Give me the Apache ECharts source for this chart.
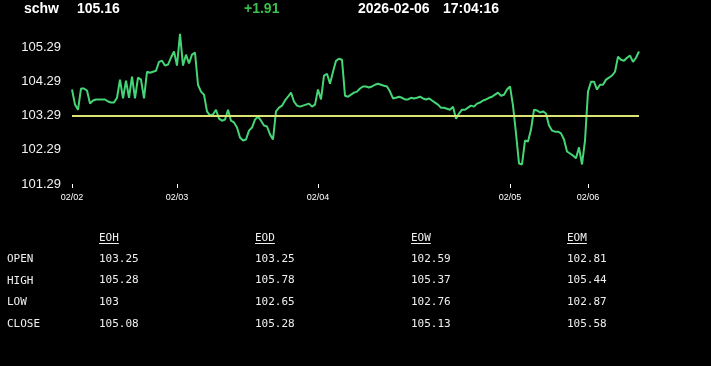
<!DOCTYPE html>
<html>
<head>
<meta charset="utf-8">
<script src="https://cdn.jsdelivr.net/npm/echarts@6/dist/echarts.min.js"></script>
<style>
html,body{margin:0;padding:0;background:#000;}
#chart{width:711px;height:366px;}
</style>
</head>
<body>
<div id="chart"></div>
<script>
// ---- data ----
const symbolName = 'schw';
const lastPrice = '105.16';
const change = '+1.91';
const dateText = '2026-02-06';
const timeText = '17:04:16';

const dayLabels = ['02/02', '02/03', '02/04', '02/05', '02/06'];
const dayStartIndex = [0, 35, 82, 146, 172];
const yTickValues = [101.29, 102.29, 103.29, 104.29, 105.29];
const refLevel = 103.29;

const prices = [
  104.05,103.61,103.46,104.08,104.08,104.02,103.64,103.73,103.76,103.76,
  103.76,103.76,103.70,103.67,103.67,103.81,104.34,103.79,104.31,103.81,
  104.43,103.79,104.40,104.34,103.79,104.57,104.54,104.57,104.60,104.86,
  104.89,104.75,104.78,104.98,105.16,104.75,105.68,104.75,105.07,104.81,
  105.07,105.13,104.19,103.99,103.90,103.41,103.29,103.32,103.46,103.20,
  103.14,103.17,103.46,103.14,103.09,102.94,102.65,102.56,102.59,102.85,
  102.94,103.17,103.26,103.14,103.00,102.97,102.74,102.59,103.41,103.52,
  103.58,103.73,103.84,103.96,103.70,103.58,103.55,103.58,103.61,103.64,
  103.55,103.61,104.05,103.76,104.46,104.51,104.22,104.57,104.89,104.95,
  104.92,103.87,103.84,103.90,103.96,103.99,104.08,104.14,104.14,104.11,
  104.14,104.19,104.22,104.19,104.16,104.14,103.99,103.79,103.81,103.84,
  103.81,103.76,103.76,103.81,103.79,103.81,103.84,103.79,103.76,103.79,
  103.73,103.67,103.61,103.52,103.52,103.49,103.46,103.55,103.20,103.35,
  103.46,103.46,103.52,103.58,103.55,103.64,103.67,103.73,103.76,103.81,
  103.84,103.90,103.96,103.87,103.90,104.05,104.14,103.58,102.77,101.89,
  101.86,102.56,102.53,102.88,103.46,103.44,103.38,103.41,103.35,103.00,
  102.85,102.82,102.82,102.77,102.59,102.24,102.18,102.12,102.04,102.36,
  101.86,102.56,103.99,104.28,104.28,104.05,104.19,104.19,104.34,104.40,
  104.46,104.57,105.01,104.92,104.89,104.98,105.04,104.86,104.98,105.16
];

const tableHeaders = ['EOH', 'EOD', 'EOW', 'EOM'];
const rowLabels = ['OPEN', 'HIGH', 'LOW', 'CLOSE'];
const eohValues = ['103.25', '105.28', '103', '105.08'];
const eodValues = ['103.25', '105.78', '102.65', '105.28'];
const eowValues = ['102.59', '105.37', '102.76', '105.13'];
const eomValues = ['102.81', '105.44', '102.87', '105.58'];

// ---- chart ----
const categories = prices.map((_, i) => String(i));
const tableColumns = [eohValues, eodValues, eowValues, eomValues];

const chart = echarts.init(document.getElementById('chart'), null, {renderer: 'canvas'});

const headFont = 'bold 14px "Liberation Sans", Arial, sans-serif';
const monoFont = '11px "DejaVu Sans Mono", "Liberation Mono", monospace';
const colX = [99, 255, 411, 567];
const rowY = [259, 280.5, 302, 324];
const headerY = 238;

const graphics = [];
const headItems = [
  {t: symbolName, x: 24, c: '#ffffff'},
  {t: lastPrice, x: 77, c: '#ffffff'},
  {t: change, x: 244, c: '#3cbf4c'},
  {t: dateText, x: 358, c: '#ffffff'},
  {t: timeText, x: 443, c: '#ffffff'}
];
headItems.forEach(h => graphics.push({
  type: 'text', x: h.x, y: 9,
  style: {text: h.t, fill: h.c, font: headFont, verticalAlign: 'middle', align: 'left'}
}));
tableHeaders.forEach((h, j) => {
  graphics.push({
    type: 'text', x: colX[j], y: headerY,
    style: {text: h, fill: '#f0f0f0', font: monoFont, verticalAlign: 'middle', align: 'left'}
  });
  graphics.push({
    type: 'line',
    shape: {x1: colX[j], y1: 243.5, x2: colX[j] + h.length * 6.62, y2: 243.5},
    style: {stroke: '#f0f0f0', lineWidth: 1}
  });
});
rowLabels.forEach((r, i) => {
  graphics.push({
    type: 'text', x: 7, y: rowY[i] + 0.5,
    style: {text: r, fill: '#f0f0f0', font: monoFont, verticalAlign: 'middle', align: 'left'}
  });
  tableColumns.forEach((col, j) => graphics.push({
    type: 'text', x: colX[j], y: rowY[i],
    style: {text: col[i], fill: '#f0f0f0', font: monoFont, verticalAlign: 'middle', align: 'left'}
  }));
});

chart.setOption({
  backgroundColor: '#000000',
  animation: false,
  grid: {left: 72, right: 72, top: 30, bottom: 182, containLabel: false},
  xAxis: {
    type: 'category',
    data: categories,
    boundaryGap: false,
    axisLine: {show: false},
    axisTick: {
      show: true, length: 4, inside: false,
      lineStyle: {color: '#ffffff', width: 1},
      interval: (idx) => dayStartIndex.includes(idx)
    },
    axisLabel: {
      color: '#ffffff', fontSize: 9, margin: 9,
      fontFamily: '"Liberation Sans", Arial, sans-serif',
      interval: (idx) => dayStartIndex.includes(idx),
      formatter: (val, idx) => {
        const k = dayStartIndex.indexOf(Number(val));
        return k >= 0 ? dayLabels[k] : '';
      }
    },
    splitLine: {show: false}
  },
  yAxis: {
    type: 'value',
    min: 101.29,
    max: 105.79,
    axisLine: {show: false},
    axisTick: {show: false},
    splitLine: {show: false},
    axisLabel: {
      customValues: yTickValues,
      color: '#f2f2f2', fontSize: 13, margin: 11,
      fontFamily: '"Liberation Sans", Arial, sans-serif',
      formatter: (v) => Number(v).toFixed(2)
    }
  },
  series: [{
    type: 'line',
    data: prices,
    showSymbol: false,
    symbol: 'none',
    lineStyle: {color: '#46d576', width: 2},
    itemStyle: {color: '#46d576'},
    markLine: {
      silent: true,
      symbol: ['none', 'none'],
      label: {show: false},
      lineStyle: {color: '#dbe472', width: 2, type: 'solid'},
      data: [{yAxis: refLevel}]
    }
  }],
  graphic: graphics
});
</script>
</body>
</html>
